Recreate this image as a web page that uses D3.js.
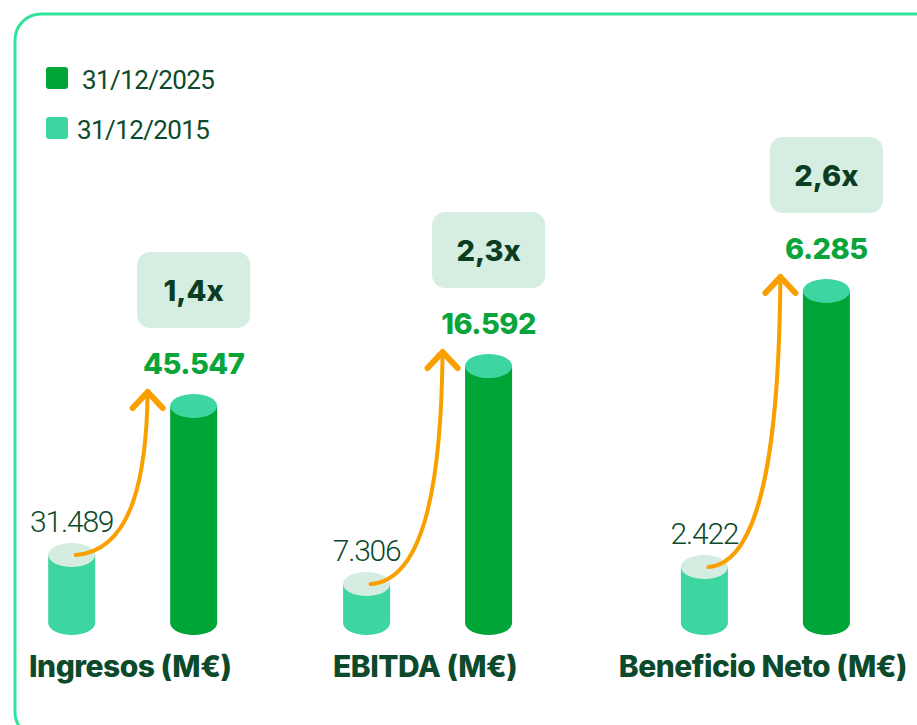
<!DOCTYPE html>
<html>
<head>
<meta charset="utf-8">
<script src="https://cdn.jsdelivr.net/npm/d3@7"></script>
<style>
  body { margin: 0; background: #fff; }
  svg { display: block; }
</style>
</head>
<body>
<svg width="917" height="725"></svg>
<script>
const categories = ["Ingresos (M€)", "EBITDA (M€)", "Beneficio Neto (M€)"];
const seriesNames = ["31/12/2025", "31/12/2015"];
const values2015 = [31489, 7306, 2422];
const values2025 = [45547, 16592, 6285];
// each block is drawn on its own scale (infographic style), domain per block
const domainFloor = [25070, 5645, 1638];
const domainCeil = [57150, 20130, 6397];

const width = 917, height = 725;
const baseY = 623, rangeH = 340;
const barW = 47, ry = 12, barOffset = 61;

const C = {
  border: "#2ee39a",
  dark: "#0c4a2b",
  dark2025: "#00a538",
  light2015: "#3dd6a0",
  top2015: "#d5ece0",
  value2025: "#0aa53a",
  box: "#d6ede1",
  boxText: "#0a3d22",
  arrow: "#f9a000"
};

const es = d3.formatLocale({decimal: ",", thousands: ".", grouping: [3], currency: ["", "€"]});
const fmtNum = es.format(",d");
const fmtMult = es.format(".1f");

const svg = d3.select("svg");

// card
svg.append("rect")
    .attr("x", 15).attr("y", 14)
    .attr("width", 960).attr("height", 724)
    .attr("rx", 26)
    .attr("fill", "#fff")
    .attr("stroke", C.border)
    .attr("stroke-width", 3);

// legend
const legend = svg.append("g").attr("font-family", "Roboto, sans-serif");
const legendItems = [
  {name: seriesNames[0], color: C.dark2025, y: 67, tx: 82},
  {name: seriesNames[1], color: C.light2015, y: 117, tx: 77}
];
legendItems.forEach(d => {
  legend.append("rect")
      .attr("x", 46).attr("y", d.y)
      .attr("width", 22).attr("height", 22)
      .attr("rx", 3)
      .attr("fill", d.color);
  legend.append("text")
      .attr("x", d.tx).attr("y", d.y + 22)
      .attr("font-size", 26)
      .attr("letter-spacing", -0.6)
      .attr("fill", C.dark)
      .text(d.name);
});

// category labels, laid out edge to edge between x=29 and x=907
const labels = svg.append("g")
    .attr("font-family", "Inter, 'Open Sans', sans-serif")
    .attr("font-weight", 800)
    .attr("font-size", 30)
    .attr("fill", C.dark)
  .selectAll("text")
  .data(categories)
  .join("text")
    .attr("y", 677)
    .attr("letter-spacing", -0.5)
    .text(d => d);

const widths = [];
labels.each(function() { widths.push(this.getComputedTextLength()); });
const gap = (907 - 29 - d3.sum(widths)) / (categories.length - 1);
const starts = [];
let cursor = 29;
widths.forEach(w => { starts.push(cursor); cursor += w + gap; });
labels.attr("x", (d, i) => starts[i]);
const centers = widths.map((w, i) => starts[i] + w / 2 + 2.5);

const x = d3.scalePoint().domain(["2015", "2025"]).range([-barOffset, barOffset]);

function cylinder(g, cx, yTop, body, top) {
  const x0 = cx - barW / 2, x1 = cx + barW / 2;
  g.append("path")
      .attr("d", `M${x0},${yTop}L${x0},${baseY}A${barW / 2},${ry} 0 0 0 ${x1},${baseY}L${x1},${yTop}Z`)
      .attr("fill", body);
  g.append("ellipse")
      .attr("cx", cx).attr("cy", yTop)
      .attr("rx", barW / 2).attr("ry", ry)
      .attr("fill", top);
}

categories.forEach((cat, i) => {
  const y = d3.scaleLinear().domain([domainFloor[i], domainCeil[i]]).range([baseY, baseY - rangeH]);
  const g = svg.append("g").attr("transform", `translate(${centers[i]},0)`);
  const x15 = x("2015"), x25 = x("2025");
  const y15 = y(values2015[i]), y25 = y(values2025[i]);

  cylinder(g, x15, y15, C.light2015, C.top2015);
  cylinder(g, x25, y25, C.dark2025, C.light2015);

  // 2015 value
  g.append("text")
      .attr("x", x15).attr("y", y15 - 23)
      .attr("text-anchor", "middle")
      .attr("font-family", "Roboto, sans-serif")
      .attr("font-weight", 300)
      .attr("font-size", 30)
      .attr("letter-spacing", -1.2)
      .attr("fill", C.dark)
      .text(fmtNum(values2015[i]));

  // 2025 value
  g.append("text")
      .attr("x", x25).attr("y", y25 - 32)
      .attr("text-anchor", "middle")
      .attr("font-family", "Inter, sans-serif")
      .attr("font-weight", 800)
      .attr("font-size", 29)
      .attr("letter-spacing", -0.5)
      .attr("fill", C.value2025)
      .text(fmtNum(values2025[i]));

  // growth box
  const boxBottom = y25 - 32 - 46;
  g.append("rect")
      .attr("x", x25 - 56.5).attr("y", boxBottom - 76)
      .attr("width", 113).attr("height", 76)
      .attr("rx", 13)
      .attr("fill", C.box);
  g.append("text")
      .attr("x", x25).attr("y", boxBottom - 27)
      .attr("text-anchor", "middle")
      .attr("font-family", "Inter, sans-serif")
      .attr("font-weight", 800)
      .attr("font-size", 29)
      .attr("fill", C.boxText)
      .text(fmtMult(values2025[i] / values2015[i]) + "x");

  // arrow
  const sx = x15 + 4, sy = y15;
  const tx = x25 - 46, ty = y25 - 15;
  const dx = tx - sx, dy = sy - ty;
  const path = d3.path();
  path.moveTo(sx, sy);
  path.bezierCurveTo(sx + dx * 0.8, sy - 4, tx - 1, ty + dy * 0.5, tx, ty);
  g.append("path")
      .attr("d", path.toString())
      .attr("fill", "none")
      .attr("stroke", C.arrow)
      .attr("stroke-width", 4)
      .attr("stroke-linecap", "round");
  g.append("path")
      .attr("d", d3.line()([[tx - 15, ty + 17], [tx, ty + 1], [tx + 15, ty + 17]]))
      .attr("fill", "none")
      .attr("stroke", C.arrow)
      .attr("stroke-width", 6)
      .attr("stroke-linecap", "round")
      .attr("stroke-linejoin", "round");
});
</script>
</body>
</html>
